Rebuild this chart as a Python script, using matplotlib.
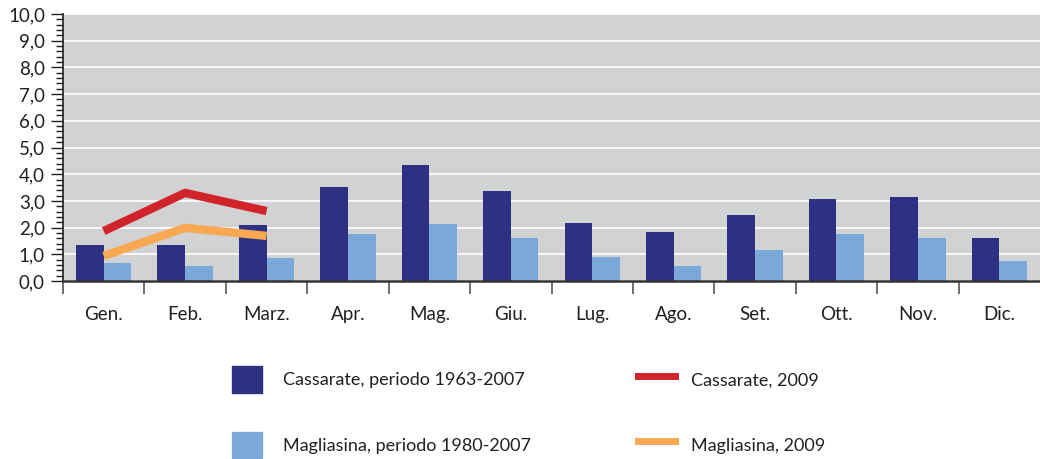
import numpy as np
import matplotlib.pyplot as plt
from matplotlib.patches import Patch
from matplotlib.lines import Line2D
from matplotlib.ticker import MultipleLocator, FuncFormatter

plt.rcParams['font.family'] = ['Lato', 'DejaVu Sans']

months = ['Gen.', 'Feb.', 'Marz.', 'Apr.', 'Mag.', 'Giu.', 'Lug.', 'Ago.',
          'Set.', 'Ott.', 'Nov.', 'Dic.']
cassarate_avg = [1.35, 1.35, 2.10, 3.52, 4.34, 3.37, 2.17, 1.84, 2.47, 3.07, 3.15, 1.61]
magliasina_avg = [0.67, 0.56, 0.86, 1.76, 2.13, 1.61, 0.90, 0.56, 1.16, 1.76, 1.61, 0.75]
cassarate_2009 = [1.87, 3.30, 2.62]
magliasina_2009 = [0.94, 1.99, 1.69]

c_dark = '#2E3181'
c_light = '#7BA7D9'
c_red = '#D1232A'
c_orange = '#F7A851'
c_text = '#231F20'

fig = plt.figure(figsize=(10.4, 4.59), dpi=100)
ax = fig.add_axes([63/1040, 1-281/459, 1-63/1040, (281-14)/459])
ax.set_facecolor('#D1D2D4')

x = np.arange(len(months))
w = 0.34
ax.bar(x - w/2, cassarate_avg, w, color=c_dark, zorder=3)
ax.bar(x + w/2, magliasina_avg, w, color=c_light, zorder=3)
ax.plot(x[:3], cassarate_2009, color=c_red, lw=6, zorder=4, solid_capstyle='butt')
ax.plot(x[:3], magliasina_2009, color=c_orange, lw=6, zorder=4, solid_capstyle='butt')

ax.set_xlim(-0.5, 11.5)
ax.set_ylim(0, 10)

ax.yaxis.set_major_locator(MultipleLocator(1))
ax.yaxis.set_minor_locator(MultipleLocator(0.2))
ax.yaxis.set_major_formatter(FuncFormatter(lambda v, p: f'{v:.1f}'.replace('.', ',')))
ax.grid(axis='y', color='white', lw=1.2, zorder=1)
ax.tick_params(axis='y', which='major', length=9, width=1, color=c_text,
               labelsize=13.5, labelcolor=c_text, pad=4)
ax.tick_params(axis='y', which='minor', length=5, width=1, color=c_text)

ax.set_xticks(np.arange(-0.5, 11.5, 1))
ax.set_xticklabels([])
ax.set_xticks(x, minor=True)
ax.set_xticklabels(months, minor=True)
ax.tick_params(axis='x', which='major', length=9, width=1.2, color='#555555')
ax.tick_params(axis='x', which='minor', length=0, labelsize=13.5,
               labelcolor=c_text, pad=18)

for s in ['top', 'right']:
    ax.spines[s].set_visible(False)
ax.spines['left'].set_color(c_text)
ax.spines['left'].set_linewidth(1.2)
ax.spines['bottom'].set_color('#333333')
ax.spines['bottom'].set_linewidth(1.8)
ax.spines['bottom'].set_zorder(5)

fs = 13
hp = [Patch(color=c_dark), Patch(color=c_light)]
hl = [Line2D([], [], color=c_red, lw=5), Line2D([], [], color=c_orange, lw=5)]
leg1 = fig.legend(hp, ['Cassarate, periodo 1963-2007', 'Magliasina, periodo 1980-2007'],
                  loc='upper left', bbox_to_anchor=(232/1040, 1-366/459),
                  frameon=False, borderpad=0, borderaxespad=0, fontsize=fs,
                  handlelength=1.65, handleheight=1.9, handletextpad=1.15,
                  labelspacing=2.15, labelcolor=c_text)
leg2 = fig.legend(hl, ['Cassarate, 2009', 'Magliasina, 2009'],
                  loc='upper left', bbox_to_anchor=(638/1040, 1-366/459),
                  frameon=False, borderpad=0, borderaxespad=0, fontsize=fs,
                  handlelength=2.05, handleheight=1.9, handletextpad=0.9,
                  labelspacing=2.15, labelcolor=c_text)

fig.savefig('out.png', dpi=100)
